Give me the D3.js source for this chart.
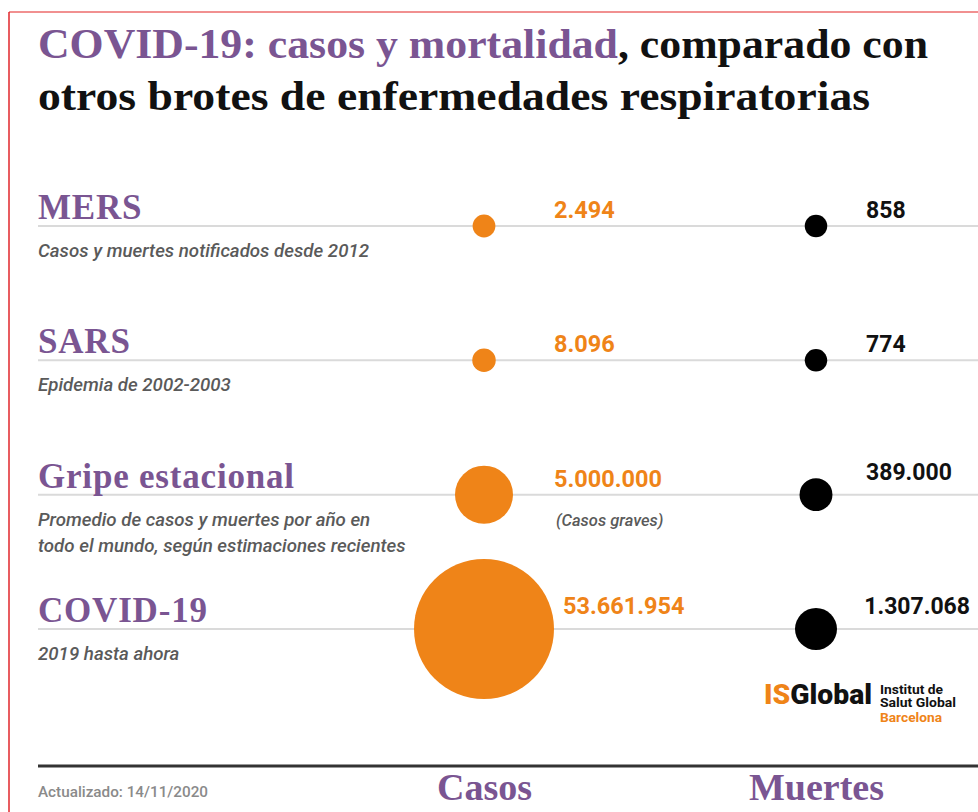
<!DOCTYPE html>
<html>
<head>
<meta charset="utf-8">
<script src="https://cdn.jsdelivr.net/npm/d3@7"></script>
<style>
  html, body { margin: 0; padding: 0; background: #fff; }
  svg { display: block; }
</style>
</head>
<body>
<svg id="chart" width="978" height="812"></svg>
<script>
// data
const outbreaks = ["MERS", "SARS", "Gripe estacional", "COVID-19"];
const casos     = [2494, 8096, 5000000, 53661954];
const muertes   = [858, 774, 389000, 1307068];
const notes     = [
  ["Casos y muertes notificados desde 2012"],
  ["Epidemia de 2002-2003"],
  ["Promedio de casos y muertes por año en", "todo el mundo, según estimaciones recientes"],
  ["2019 hasta ahora"]
];
const casosNotes = ["", "", "(Casos graves)", ""];
const columns   = ["Casos", "Muertes"];
const updated   = "Actualizado: 14/11/2020";

const PURPLE = "#7a5592", ORANGE = "#ef8418", GREY = "#5a5a5a";
const fmt = d3.formatLocale({ decimal: ",", thousands: ".", grouping: [3], currency: ["", "€"] }).format(",d");

const W = 978, H = 812;
const m = { left: 38, right: 0 };
const svg = d3.select("#chart");

// frame
svg.append("line").attr("x1", 9).attr("x2", W).attr("y1", 12).attr("y2", 12)
  .attr("stroke", "#ec6b6b").attr("stroke-width", 1.5);
svg.append("line").attr("x1", 9).attr("x2", 9).attr("y1", 12).attr("y2", H)
  .attr("stroke", "#e0262b").attr("stroke-width", 1.5);

// title
const title = svg.append("text").attr("x", m.left).attr("y", 58)
  .attr("font-family", "Liberation Serif, serif").attr("font-weight", "bold").attr("font-size", 42)
  .attr("textLength", 890).attr("lengthAdjust", "spacingAndGlyphs");
title.append("tspan").attr("fill", PURPLE).text("COVID-19: casos y mortalidad");
title.append("tspan").attr("fill", "#111").text(", comparado con");
svg.append("text").attr("x", m.left).attr("y", 110)
  .attr("font-family", "Liberation Serif, serif").attr("font-weight", "bold").attr("font-size", 42)
  .attr("textLength", 832).attr("lengthAdjust", "spacingAndGlyphs")
  .attr("fill", "#111").text("otros brotes de enfermedades respiratorias");

// scales
const y = d3.scalePoint().domain(outbreaks).range([226, 629]);
const x = d3.scalePoint().domain(columns).range([484, 816]);
const rCasos   = d3.scaleSqrt().domain([0, d3.max(casos)]).range([11, 70]);
const rMuertes = d3.scaleSqrt().domain([0, d3.max(muertes)]).range([11, 21]);

const rows = outbreaks.map((name, i) => ({
  name, casos: casos[i], muertes: muertes[i], note: notes[i], casosNote: casosNotes[i]
}));

const g = svg.selectAll(".row").data(rows).enter().append("g").attr("class", "row");

// row rule
g.append("line").attr("x1", m.left).attr("x2", W - m.right)
  .attr("y1", d => y(d.name)).attr("y2", d => y(d.name))
  .attr("stroke", "#dadada").attr("stroke-width", 2);

// row name
g.append("text").attr("x", m.left).attr("y", d => y(d.name) - 7)
  .attr("font-family", "Liberation Serif, serif").attr("font-weight", "bold").attr("font-size", 35)
  .attr("letter-spacing", 0.8).attr("fill", PURPLE).text(d => d.name);

// description
g.each(function(d) {
  const t = d3.select(this);
  d.note.forEach((line, j) => {
    t.append("text").attr("x", m.left).attr("y", y(d.name) + 31 + j * 26)
      .attr("font-family", "Roboto, sans-serif").attr("font-style", "italic").attr("font-weight", 500)
      .attr("font-size", 18.7).attr("fill", GREY).text(line);
  });
});

// bubbles
g.append("circle").attr("cx", x("Casos")).attr("cy", d => y(d.name))
  .attr("r", d => rCasos(d.casos)).attr("fill", ORANGE);
g.append("circle").attr("cx", x("Muertes")).attr("cy", d => y(d.name))
  .attr("r", d => rMuertes(d.muertes)).attr("fill", "#000");

// values
g.append("text")
  .attr("x", d => Math.max(x("Casos") + 70, x("Casos") + rCasos(d.casos) + 9))
  .attr("y", d => y(d.name) - (rCasos(d.casos) > 50 ? 15 : 8))
  .attr("font-family", "Roboto, sans-serif").attr("font-weight", "bold").attr("font-size", 23.5)
  .attr("fill", ORANGE).text(d => fmt(d.casos));
g.append("text")
  .attr("y", d => y(d.name) - (rMuertes(d.muertes) > 15 ? 15 : 8))
  .attr("font-family", "Roboto, sans-serif").attr("font-weight", "bold").attr("font-size", 23)
  .attr("fill", "#111").text(d => fmt(d.muertes))
  .attr("x", function() {
    // keep long labels inside the frame
    return Math.min(x("Muertes") + 50, W - 8 - this.getComputedTextLength());
  });
g.filter(d => d.casosNote).append("text")
  .attr("x", x("Casos") + 72).attr("y", d => y(d.name) + 31)
  .attr("font-family", "Roboto, sans-serif").attr("font-style", "italic").attr("font-weight", 500)
  .attr("font-size", 16.5).attr("fill", GREY).text(d => d.casosNote);

// logo
const logo = svg.append("g").attr("transform", "translate(764,704)");
const lt = logo.append("text").attr("font-family", "Roboto, sans-serif").attr("font-weight", 900)
  .attr("font-size", 28).attr("textLength", 108).attr("lengthAdjust", "spacingAndGlyphs");
lt.append("tspan").attr("fill", ORANGE).text("IS");
lt.append("tspan").attr("fill", "#111").text("Global");
[["Institut de", "#111", -10, 63], ["Salut Global", "#111", 3, 76], ["Barcelona", ORANGE, 18, 62]].forEach(([s, c, dy, len]) => {
  logo.append("text").attr("x", 116).attr("y", dy)
    .attr("font-family", "Roboto, sans-serif").attr("font-weight", "bold").attr("font-size", 12)
    .attr("fill", c).attr("textLength", len)
    .attr("lengthAdjust", "spacingAndGlyphs").text(s);
});

// bottom rule + column axis
svg.append("line").attr("x1", m.left).attr("x2", W).attr("y1", 766).attr("y2", 766)
  .attr("stroke", "#333").attr("stroke-width", 3);
svg.append("g").attr("transform", "translate(0,770)")
  .call(d3.axisBottom(x).tickSize(0).tickPadding(0))
  .call(a => a.select(".domain").remove())
  .call(a => a.selectAll("text").attr("dy", 0).attr("y", 30)
    .attr("font-family", "Liberation Serif, serif").attr("font-weight", "bold").attr("font-size", 38)
    .attr("fill", PURPLE));
svg.append("text").attr("x", m.left).attr("y", 797)
  .attr("font-family", "Roboto, sans-serif").attr("font-weight", 500).attr("font-size", 14)
  .attr("fill", "#8a8a8a").attr("textLength", 170).attr("lengthAdjust", "spacingAndGlyphs")
  .text(updated);
</script>
</body>
</html>
